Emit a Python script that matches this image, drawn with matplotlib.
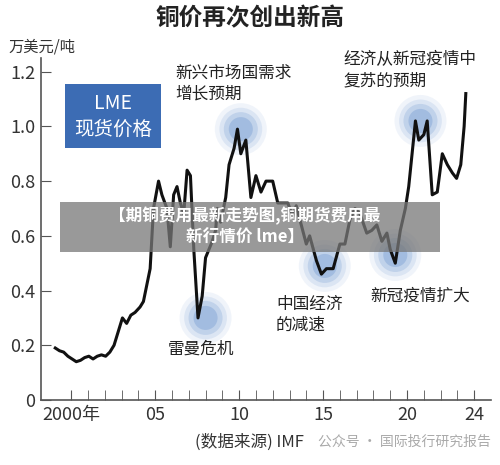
import matplotlib
matplotlib.use("Agg")
import matplotlib.pyplot as plt
import numpy as np

plt.rcParams['font.family'] = ['Noto Sans CJK SC', 'DejaVu Sans']

# time positions as drawn on the chart's x scale, and prices (10k USD/t)
times = [1999.05,1999.3,1999.55,1999.8,2000.05,2000.3,2000.55,2000.8,
         2001.05,2001.3,2001.55,2001.8,2002.05,2002.3,2002.55,2002.8,2003.05,2003.3,2003.55,2003.8,
         2004.1,2004.3,2004.5,2004.7,2004.9,2005.2,2005.4,2005.7,2005.9,2006.1,2006.3,2006.5,2006.7,
         2006.9,2007.1,2007.3,2007.55,2007.8,2008.0,2008.4,2008.6,2008.7,2008.9,2009.2,2009.4,2009.7,
         2009.9,2010.1,2010.4,2010.7,2011.0,2011.3,2011.6,2012.0,2012.3,2012.6,2012.9,2013.2,2013.4,
         2013.7,2014.0,2014.2,2014.6,2014.9,2015.2,2015.6,2016.0,2016.3,2016.6,2016.9,2017.2,2017.6,
         2017.9,2018.2,2018.5,2018.8,2019.0,2019.3,2019.6,2019.9,2020.1,2020.3,2020.5,2020.7,
         2021.0,2021.2,2021.5,2021.8,2022.1,2022.4,2022.7,2022.95,2023.2,2023.4,2023.5]
prices = [0.19,0.18,0.175,0.19,0.185,0.18,0.17,0.165,
          0.16,0.15,0.14,0.145,0.155,0.16,0.15,0.16,0.165,0.16,0.175,0.20,
          0.25,0.30,0.28,0.31,0.32,0.34,0.36,0.42,0.48,0.70,0.80,0.75,0.70,
          0.56,0.75,0.78,0.72,0.68,0.84,0.82,0.55,0.30,0.38,0.52,0.58,0.62,
          0.70,0.65,0.74,0.86,0.92,0.99,0.90,0.95,0.74,0.82,0.76,0.80,0.80,
          0.72,0.72,0.72,0.67,0.71,0.64,0.57,0.60,0.51,0.46,0.48,0.48,0.57,
          0.57,0.66,0.70,0.68,0.61,0.62,0.64,0.58,0.61,0.55,0.50,0.62,0.70,
          0.78,0.90,1.02,0.95,0.97,1.02,0.75,0.76,0.90,0.86,0.83,0.81,0.86,1.00,1.12]
# align lengths from the end so the latest values are kept
k = min(len(times), len(prices))
times = times[:k]
prices = prices[:3] + prices[3 + (len(prices) - k):] if len(prices) > k else prices

xtick_pos = [2000, 2005, 2010, 2015, 2020, 2024]
xtick_labels = ['2000年', '05', '10', '15', '20', '24']
ytick_pos = [0, 0.2, 0.4, 0.6, 0.8, 1.0, 1.2]
ytick_labels = ['0', '0.2', '0.4', '0.6', '0.8', '1.0', '1.2']

W, H = 500, 465
fig = plt.figure(figsize=(5, 4.65), dpi=100)
fig.patch.set_facecolor('white')
ax = fig.add_axes([41/W, 1-400/H, 450/W, 342/H])
ax.set_xlim(1998.2, 2025.0)
ax.set_ylim(0, 1.25)

def px(x, y):
    return (x/W, 1-y/H)

glow = [(2010.1, 0.99), (2008.0, 0.30), (2015.1, 0.49), (2019.3, 0.53), (2020.8, 1.02)]
for gx, gy in glow:
    for s, a in [(1400, 0.08), (950, 0.12), (600, 0.18), (300, 0.25)]:
        ax.scatter([gx], [gy], s=s, color='#4a7cc4', alpha=a, edgecolors='none', zorder=1)

ax.plot(times, prices, color='#111111', lw=2.2, zorder=3)

for s in ['top', 'right']:
    ax.spines[s].set_visible(False)
for s in ['left', 'bottom']:
    ax.spines[s].set_color('#555555')
    ax.spines[s].set_linewidth(1.2)
ax.set_xticks(range(2000, 2025), minor=True)
ax.set_xticks(xtick_pos)
ax.set_xticklabels(xtick_labels)
ax.set_yticks(ytick_pos)
ax.set_yticklabels(ytick_labels)
ax.tick_params(axis='x', which='both', direction='in', length=7, color='#555555', labelsize=13, labelcolor='#333333', pad=4)
ax.tick_params(axis='y', direction='in', length=7, color='#555555', labelsize=13, labelcolor='#333333', pad=4)

fig.text(*px(250, 18), '铜价再次创出新高', fontsize=17, fontweight='bold', ha='center', va='center', color='#222222')
fig.text(*px(8, 47), '万美元/吨', fontsize=11, ha='left', va='center', color='#333333')

fig.text(*px(113, 116), 'LME\n现货价格', fontsize=14, ha='center', va='center', color='white',
         linespacing=1.3, bbox=dict(boxstyle='square,pad=0.45', fc='#3c6cb4', ec='none'))

fig.text(*px(175, 84), '新兴市场国需求\n增长预期', fontsize=12, ha='left', va='center', color='#222222', linespacing=1.3)
fig.text(*px(343, 70), '经济从新冠疫情中\n复苏的预期', fontsize=12, ha='left', va='center', color='#222222', linespacing=1.3)
fig.text(*px(276, 315), '中国经济\n的减速', fontsize=12, ha='left', va='center', color='#222222', linespacing=1.3)
fig.text(*px(370, 296), '新冠疫情扩大', fontsize=12, ha='left', va='center', color='#222222')
fig.text(*px(168, 349), '雷曼危机', fontsize=12, ha='left', va='center', color='#222222')
fig.text(*px(195, 442), '(数据来源) IMF', fontsize=12, ha='left', va='center', color='#333333')
fig.text(*px(318, 442), '公众号 · 国际投行研究报告', fontsize=10, ha='left', va='center', color='#aaaaaa')

fig.patches.append(plt.Rectangle(px(60, 252), 380/W, 50/H, transform=fig.transFigure,
                                 fc='#777777', alpha=0.75, ec='none', zorder=5))
fig.text(*px(245, 227), '【期铜费用最新走势图,铜期货费用最\n新行情价 lme】', fontsize=12, fontweight='bold',
         ha='center', va='center', color='white', linespacing=1.3, zorder=6)

fig.savefig('out.png', dpi=100)
